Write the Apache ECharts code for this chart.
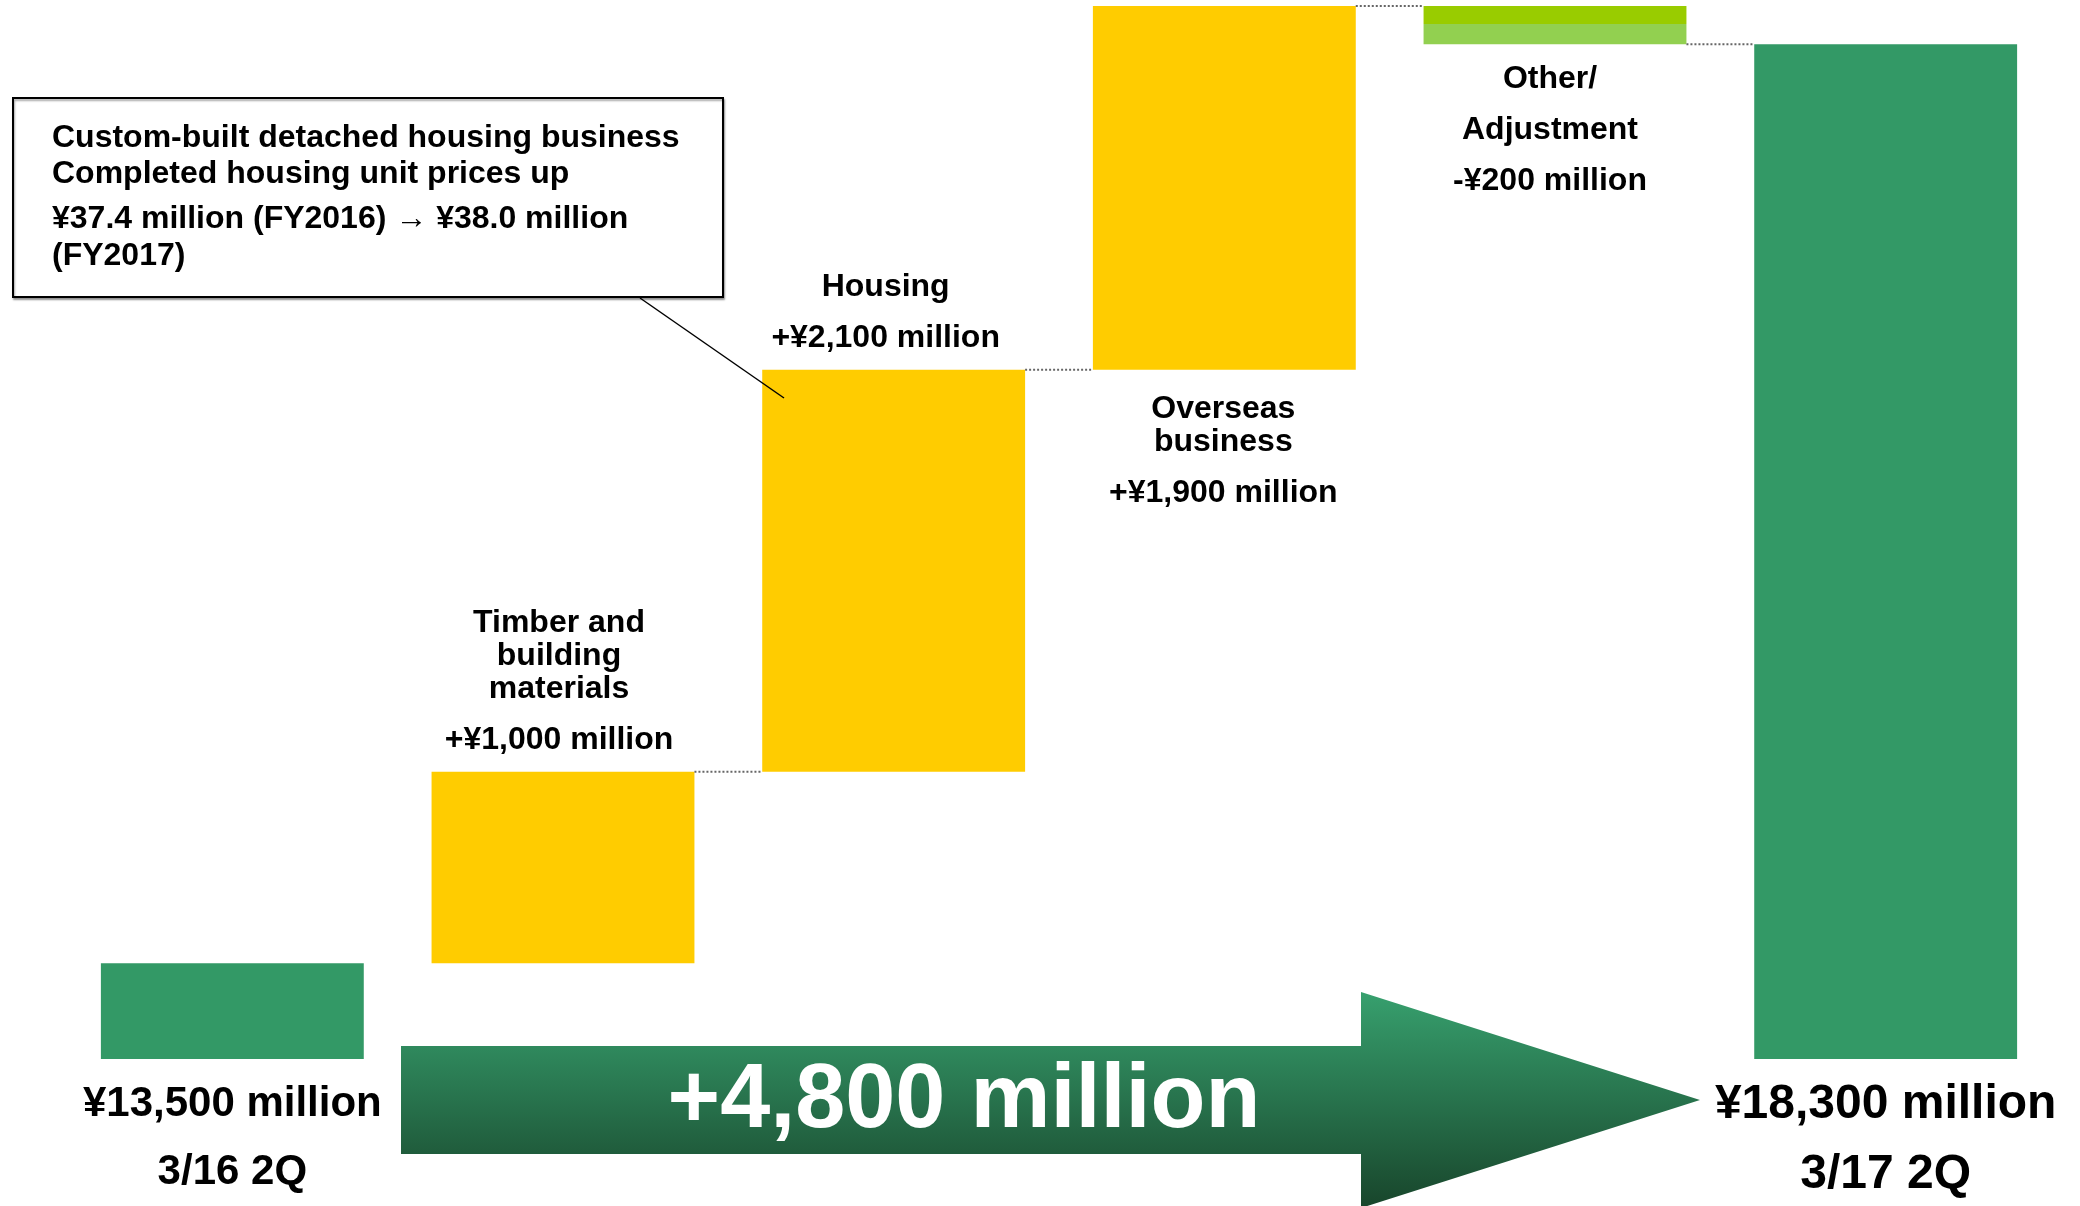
<!DOCTYPE html>
<html>
<head>
<meta charset="utf-8">
<script src="https://cdn.jsdelivr.net/npm/echarts@6/dist/echarts.min.js"></script>
<style>
html, body { margin: 0; padding: 0; background: #fff; }
#main { width: 2080px; height: 1206px; }
</style>
</head>
<body>
<div id="main"></div>
<script>
// data
var categories = ['3/16 2Q', 'Timber and\nbuilding\nmaterials', 'Housing', 'Overseas\nbusiness', 'Other/\nAdjustment', '3/17 2Q'];
var startValue = 13500;
var deltas = [1000, 2100, 1900, -200];
var endValue = 18300;
var totalChange = 4800;
var noteLines = [
  'Custom-built detached housing business',
  'Completed housing unit prices up',
  '¥37.4 million (FY2016) \u2192 ¥38.0 million',
  '(FY2017)'
];

function yen(v) {
  return '¥' + Math.abs(v).toLocaleString('en-US') + ' million';
}

// build waterfall stacks
var baseData = [0];
var barData = [startValue];
var levels = [];
var run = startValue;
deltas.forEach(function (d) {
  baseData.push(d > 0 ? run : run + d);
  barData.push(Math.abs(d));
  run += d;
  levels.push(run);
});
baseData.push(0);
barData.push(endValue);

// dotted connectors from bar i to bar i+1 (skip start bar)
var connectData = levels.map(function (lv, i) { return [i + 1, lv]; });

var font = '"Liberation Sans", Arial, sans-serif';
var GREEN = '#339966';
var YELLOW = '#FFCC00';
var BAR_FRAC = 0.795;

var labelCfg = {
  1: { position: 'top', distance: 0, offset: [-4, 3], tall: true },
  2: { position: 'top', distance: 0, offset: [-8, 3], tall: true },
  3: { position: 'bottom', distance: 23, offset: [-1, 0], tall: true },
  4: { position: 'bottom', distance: 9, offset: [-5, 0], tall: false }
};

var seriesItems = barData.map(function (v, i) {
  var item = { value: v };
  if (i === 0 || i === barData.length - 1) {
    item.itemStyle = { color: GREEN };
  } else if (deltas[i - 1] < 0) {
    item.itemStyle = {
      color: new echarts.graphic.LinearGradient(0, 0, 0, 1, [
        { offset: 0, color: '#99CC00' },
        { offset: 0.48, color: '#99CC00' },
        { offset: 0.48, color: '#92D050' },
        { offset: 1, color: '#92D050' }
      ])
    };
  } else {
    item.itemStyle = { color: YELLOW };
  }
  var lc = labelCfg[i];
  if (lc) {
    var nk = lc.tall ? 'n' : 'm';
    var vk = lc.tall ? 'v' : 'w';
    var txt = categories[i].split('\n').map(function (s) { return '{' + nk + '|' + s + '}'; }).join('\n');
    var d = deltas[i - 1];
    txt += '\n{' + vk + '|' + (d > 0 ? '+' : '-') + yen(d) + '}';
    item.label = { show: true, position: lc.position, distance: lc.distance, offset: lc.offset, formatter: txt };
  }
  return item;
});

var labelFont = { fontSize: 32, fontWeight: 'bold', fontFamily: font, color: '#000' };

var chart = echarts.init(document.getElementById('main'));
chart.setOption({
  animation: false,
  grid: { left: 67, right: 29, top: 6, bottom: 147 },
  xAxis: {
    type: 'category',
    data: categories,
    axisLine: { show: false },
    axisTick: { show: false },
    axisLabel: {
      interval: 0,
      margin: 11,
      formatter: function (val, idx) {
        if (idx === 0) return '{a|' + yen(startValue) + '}\n{a|' + val + '}';
        if (idx === categories.length - 1) return '{b|' + yen(endValue) + '}\n{b|' + val + '}';
        return '';
      },
      rich: {
        a: { fontSize: 42, fontWeight: 'bold', fontFamily: font, color: '#000', lineHeight: 68 },
        b: { fontSize: 48, fontWeight: 'bold', fontFamily: font, color: '#000', lineHeight: 70 }
      }
    }
  },
  yAxis: {
    type: 'value',
    min: 13000,
    max: 18500,
    show: false,
    splitLine: { show: false }
  },
  series: [
    {
      type: 'bar',
      stack: 'wf',
      barWidth: (BAR_FRAC * 100) + '%',
      itemStyle: { color: 'transparent' },
      emphasis: { disabled: true },
      data: baseData
    },
    {
      type: 'bar',
      stack: 'wf',
      barWidth: (BAR_FRAC * 100) + '%',
      data: seriesItems,
      label: {
        rich: {
          n: Object.assign({ lineHeight: 33 }, labelFont),
          v: Object.assign({ lineHeight: 69 }, labelFont),
          m: Object.assign({ lineHeight: 51 }, labelFont),
          w: Object.assign({ lineHeight: 51 }, labelFont)
        }
      }
    },
    {
      type: 'custom',
      data: connectData,
      z: 5,
      renderItem: function (params, api) {
        var p = api.coord([api.value(0), api.value(1)]);
        var band = api.size([1, 0])[0];
        var half = band * BAR_FRAC / 2;
        return {
          type: 'line',
          shape: { x1: p[0] + half, y1: p[1], x2: p[0] + band - half, y2: p[1] },
          style: { stroke: '#666', lineWidth: 2, lineDash: [2, 2] }
        };
      }
    }
  ],
  graphic: [
    {
      type: 'polygon',
      z: 10,
      shape: {
        points: [[401, 1046], [1361, 1046], [1361, 992], [1700, 1100], [1361, 1208], [1361, 1154], [401, 1154]]
      },
      style: {
        fill: new echarts.graphic.LinearGradient(0, 0, 0, 1, [
          { offset: 0, color: '#37A06E' },
          { offset: 1, color: '#18452B' }
        ])
      }
    },
    {
      type: 'text',
      z: 11,
      style: {
        x: 964, y: 1102,
        text: '+' + totalChange.toLocaleString('en-US') + ' million',
        font: 'bold 90px ' + font,
        fill: '#fff',
        textAlign: 'center',
        textVerticalAlign: 'middle'
      }
    },
    {
      type: 'rect',
      z: 10,
      shape: { x: 13, y: 98, width: 710, height: 199 },
      style: { fill: '#fff', stroke: '#000', lineWidth: 2, shadowColor: 'rgba(0,0,0,0.35)', shadowOffsetX: 1, shadowOffsetY: 2, shadowBlur: 2 }
    },
    {
      type: 'line',
      z: 10,
      shape: { x1: 640, y1: 298, x2: 784, y2: 398 },
      style: { stroke: '#000', lineWidth: 1.5 }
    }
  ].concat(noteLines.map(function (t, i) {
    return {
      type: 'text',
      z: 11,
      style: {
        x: 52, y: [138, 174, 219, 256][i],
        text: t,
        font: 'bold 32px ' + font,
        fill: '#000',
        textAlign: 'left',
        textVerticalAlign: 'middle'
      }
    };
  }))
});
</script>
</body>
</html>
